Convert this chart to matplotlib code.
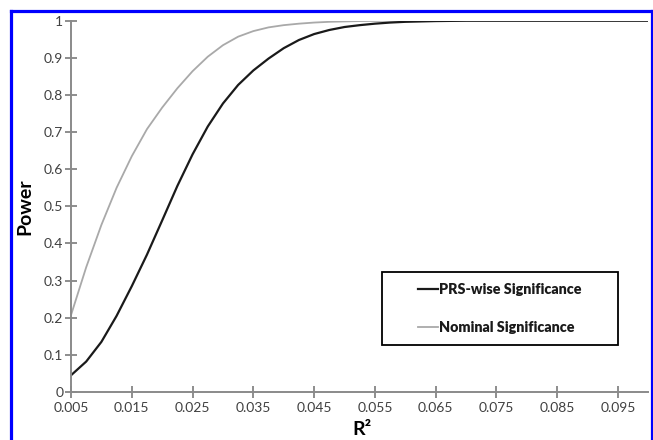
import matplotlib
matplotlib.use("Agg")
import matplotlib.pyplot as plt
from matplotlib.lines import Line2D
from matplotlib.patches import Rectangle

# values
r2 = [0.005, 0.0075, 0.01, 0.0125, 0.015, 0.0175, 0.02, 0.0225, 0.025, 0.0275,
      0.03, 0.0325, 0.035, 0.0375, 0.04, 0.0425, 0.045, 0.0475, 0.05, 0.0525,
      0.055, 0.0575, 0.06, 0.065, 0.07, 0.08, 0.09, 0.1]
prs_power = [0.045, 0.082, 0.135, 0.205, 0.285, 0.37, 0.462, 0.555, 0.64, 0.715,
             0.777, 0.827, 0.866, 0.898, 0.926, 0.948, 0.964, 0.975, 0.983, 0.988,
             0.992, 0.995, 0.997, 0.999, 1.0, 1.0, 1.0, 1.0]
nominal_power = [0.207, 0.336, 0.45, 0.55, 0.635, 0.708, 0.766, 0.818, 0.864, 0.903,
                 0.934, 0.957, 0.972, 0.982, 0.988, 0.992, 0.995, 0.997, 0.998, 0.999,
                 0.9995, 1.0, 1.0, 1.0, 1.0, 1.0, 1.0, 1.0]
xticks = [0.005, 0.015, 0.025, 0.035, 0.045, 0.055, 0.065, 0.075, 0.085, 0.095]
yticks = [0, 0.1, 0.2, 0.3, 0.4, 0.5, 0.6, 0.7, 0.8, 0.9, 1]

W, H = 653, 440
plt.rcParams['font.family'] = ['Lato', 'DejaVu Sans']

fig = plt.figure(figsize=(W / 100, H / 100), dpi=100)
ax = fig.add_axes([71 / W, 1 - 392 / H, (648.4 - 71) / W, (392 - 20.7) / H])

ax.plot(r2, nominal_power, color='#a9a9a9', lw=1.3, label='Nominal Significance')
ax.plot(r2, prs_power, color='#1a1a1a', lw=1.6, label='PRS-wise Significance')

ax.set_xlim(0.005, 0.1)
ax.set_ylim(0, 1)
ax.set_xticks(xticks)
ax.set_xticklabels([f"{t:.3f}" for t in xticks])
ax.set_yticks(yticks)
ax.set_yticklabels([f"{t:g}" for t in yticks])

for s in ['top', 'right']:
    ax.spines[s].set_visible(False)
for s in ['left', 'bottom']:
    ax.spines[s].set_color('#8a8a8a')
    ax.spines[s].set_linewidth(1.4)
ax.tick_params(direction='inout', length=8, width=1.2, color='#7a7a7a',
               labelsize=10, labelcolor='#404040')
ax.tick_params(axis='y', pad=1.5)
ax.tick_params(axis='x', pad=3)

ax.set_ylabel('Power', fontsize=14, fontweight='bold', color='black', va='center')
ax.yaxis.set_label_coords(-0.08, 0.498)
ax.set_xlabel('R²', fontsize=14, fontweight='bold', color='black', va='center')
ax.xaxis.set_label_coords(0.504, -0.102)

# legend, black box drawn separately
x0, y0, x1, y1 = 381.7, 271.7, 618.3, 345
fig.add_artist(Rectangle((x0 / W, 1 - y1 / H), (x1 - x0) / W, (y1 - y0) / H,
                         transform=fig.transFigure, fill=False, ec='black', lw=1.3))
handles = [Line2D([], [], color='#1a1a1a', lw=1.6), Line2D([], [], color='#a9a9a9', lw=1.3)]
fig.legend(handles, ['PRS-wise Significance', 'Nominal Significance'],
           loc='center', bbox_to_anchor=((x0 + x1) / 2 / W, 1 - (y0 + y1) / 2 / H),
           frameon=False, prop={'weight': 'heavy', 'size': 10.3}, labelcolor='#1a1a1a',
           handlelength=1.4, handletextpad=0.1, labelspacing=1.75)

# blue frame around the picture
blue = '#0000ff'
for xs, ys in [([10.5, 10.5], [H, 11.5]), ([10.5, 651.5], [11.5, 11.5]),
               ([651.5, 651.5], [11.5, H])]:
    fig.add_artist(Line2D([x / W for x in xs], [1 - y / H for y in ys],
                          transform=fig.transFigure, color=blue, lw=2.3))

fig.savefig('out.png', dpi=100)
